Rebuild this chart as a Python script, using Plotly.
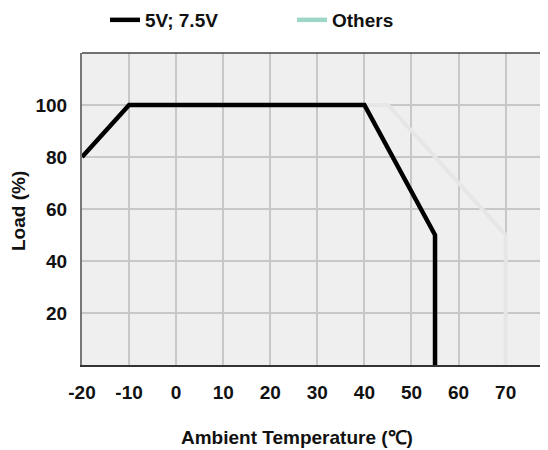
import plotly.graph_objects as go

# Data
temp_5v = [-20, -10, 40, 55, 55]
load_5v = [80, 100, 100, 50, 0]
temp_others = [-20, -10, 45, 70, 70]
load_others = [80, 100, 100, 50, 0]
x_ticks = [-20, -10, 0, 10, 20, 30, 40, 50, 60, 70]
y_ticks = [20, 40, 60, 80, 100]
series_names = ["5V; 7.5V", "Others"]

FONT = "Liberation Sans, Arial, sans-serif"
FS = 19
WT = "bold"
OFF = 8  # page body margin
W, H = 548 - OFF, 450 - OFF
L, R, T, B = 82 - OFF, 548 - OFF, 53 - OFF, 365 - OFF
PW, PH = R - L, B - T


def px_x(p):
    return (p - OFF - L) / PW


def px_y(p):
    return (B - (p - OFF)) / PH


fig = go.Figure()
fig.add_trace(go.Scatter(x=temp_others, y=load_others, mode="lines",
                         line=dict(color="#e6e6e6", width=4), showlegend=False,
                         hoverinfo="skip"))
fig.add_trace(go.Scatter(x=temp_5v, y=load_5v, mode="lines", name=series_names[0],
                         line=dict(color="#000000", width=4.5), legend="legend"))
fig.add_trace(go.Scatter(x=[None], y=[None], mode="lines", name=series_names[1],
                         line=dict(color="#9dd6c6", width=4.5), legend="legend2"))

legend_common = dict(orientation="h", xanchor="left", yanchor="middle",
                     font=dict(family=FONT, size=FS, color="#111111", weight=WT),
                     bgcolor="rgba(0,0,0,0)")

fig.update_layout(
    width=W, height=H,
    margin=dict(l=L, r=W - R, t=T, b=H - B, autoexpand=False),
    paper_bgcolor="white",
    plot_bgcolor="#efefef",
    font=dict(family=FONT, size=FS, color="#111111", weight=WT),
    showlegend=True,
    legend=dict(x=px_x(105), y=px_y(20), **legend_common),
    legend2=dict(x=px_x(292), y=px_y(20), **legend_common),
    xaxis=dict(range=[-20, 79], tickvals=x_ticks, ticktext=[str(v) for v in x_ticks],
               showgrid=True, gridcolor="#c8c8c8", gridwidth=1.5,
               showline=True, linecolor="#333333", linewidth=1.5,
               zeroline=False, ticks="", ticklabelstandoff=9,
               tickfont=dict(size=FS, weight=WT)),
    yaxis=dict(range=[0, 120], tickvals=y_ticks, ticktext=[str(v) for v in y_ticks],
               showgrid=True, gridcolor="#c8c8c8", gridwidth=1.5,
               showline=True, linecolor="#777777", linewidth=2,
               zeroline=False, ticks="", ticklabelstandoff=9,
               tickfont=dict(size=FS, weight=WT)),
    shapes=[dict(type="line", xref="paper", yref="paper", x0=0, x1=1, y0=1, y1=1,
                 line=dict(color="#444444", width=1.5))],
    annotations=[
        dict(text="Ambient Temperature (℃)", xref="paper", yref="paper",
             x=px_x(297), y=px_y(437), xanchor="center", yanchor="middle",
             showarrow=False, font=dict(size=FS, family=FONT, weight=WT)),
        dict(text="Load (%)", xref="paper", yref="paper", textangle=-90,
             x=px_x(18), y=px_y(211), xanchor="center", yanchor="middle",
             showarrow=False, font=dict(size=FS, family=FONT, weight=WT)),
    ],
)

fig.write_html("out.html")
